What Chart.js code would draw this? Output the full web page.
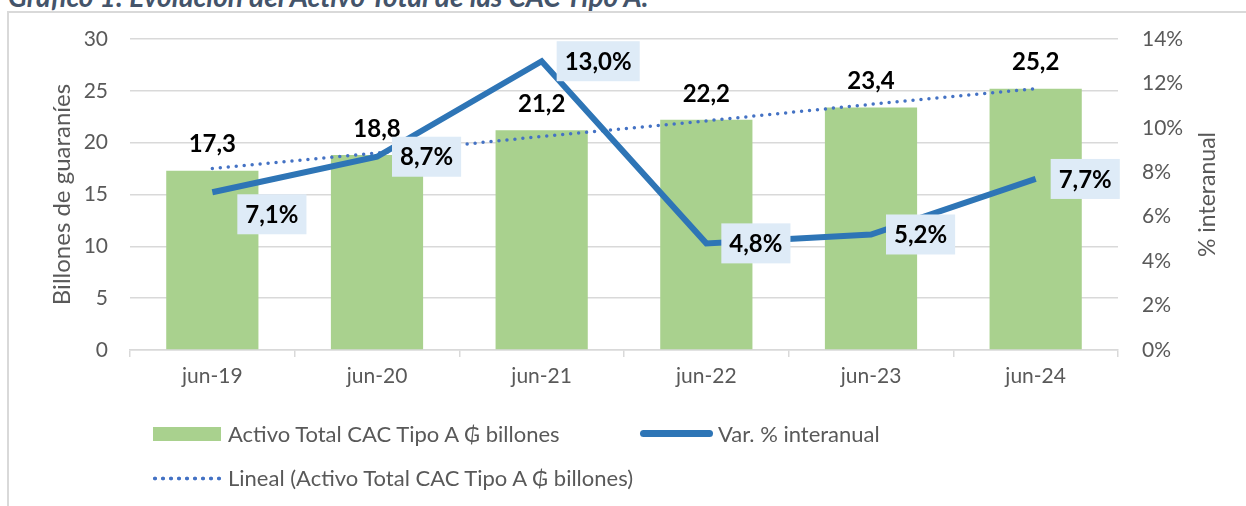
<!DOCTYPE html>
<html>
<head>
<meta charset="utf-8">
<script src="https://cdn.jsdelivr.net/npm/chart.js@4.4.1/dist/chart.umd.min.js"></script>
<style>
body{margin:0;background:#fff;overflow:hidden}
#wrap{position:relative;width:1246px;height:506px;overflow:hidden;background:#fff}
#titulo{position:absolute;left:8px;top:-18px;font:italic bold 28px Lato;line-height:28px;color:#44546A;white-space:nowrap}
#marco{position:absolute;left:7px;top:11px;width:1400px;height:700px;border:2px solid #D9D9D9}
canvas{position:absolute;left:0;top:0}
.ley{position:absolute;font:22px Lato;color:#595959;line-height:24px;white-space:nowrap}
.sim{position:absolute}
</style>
</head>
<body>
<div id="wrap">
<div id="titulo">Gráfico 1: Evolución del Activo Total de las CAC Tipo A.</div>
<div id="marco"></div>
<canvas id="grafico-activo" width="1246" height="506"></canvas>

<div class="sim" style="left:153px;top:427px;width:68px;height:14px;background:#A9D18E"></div>
<div class="ley" style="left:228px;top:422px">Activo Total CAC Tipo A ₲ billones</div>
<div class="sim" style="left:640px;top:430px;width:73px;height:7px;border-radius:4px;background:#2E75B6"></div>
<div class="ley" style="left:718px;top:422px">Var. % interanual</div>
<div class="sim" style="left:151px;top:476px;width:72px;height:5px;background:radial-gradient(circle,#4472C4 1.7px,transparent 2.2px) 0 0/8px 5px repeat-x"></div>
<div class="ley" style="left:228px;top:466px">Lineal (Activo Total CAC Tipo A ₲ billones)</div>
</div>

<script>
// datos
const categorias=["jun-19","jun-20","jun-21","jun-22","jun-23","jun-24"];
const activoTotal=[17.3,18.8,21.2,22.2,23.4,25.2];
const varInteranual=[7.1,8.7,13.0,4.8,5.2,7.7];
const tendenciaLineal=[17.5,19.0,20.6,22.1,23.7,25.2];

const gris="#595959";

function coma(v){
return v.toFixed(1).replace(".",",");
}

// etiquetas de datos y titulo del eje derecho
const etiquetas={
id:"etiquetas",
afterDatasetsDraw(chart){
let ctx=chart.ctx;
ctx.save();
ctx.font="bold 24px Lato";
ctx.textAlign="center";
ctx.textBaseline="middle";

chart.getDatasetMeta(0).data.forEach((b,i)=>{
ctx.fillStyle="#000";
ctx.fillText(coma(activoTotal[i]),b.x,b.y-26);
});

chart.getDatasetMeta(1).data.forEach((p,i)=>{
let txt=coma(varInteranual[i])+"%";
let w=ctx.measureText(txt).width+16;
let h=40;
let x=p.x+15;
let y=p.y-h/2;
if(i==0){x=p.x+25;y=p.y+2;}
ctx.fillStyle="#DEEBF7";
ctx.fillRect(x,y,w,h);
ctx.fillStyle="#000";
ctx.fillText(txt,x+w/2,y+h/2+1);
});

// eje derecho: se lee de abajo hacia arriba
let a=chart.chartArea;
ctx.translate(1208,(a.top+a.bottom)/2);
ctx.rotate(-Math.PI/2);
ctx.font="23px Lato";
ctx.fillStyle=gris;
ctx.fillText("% interanual",0,0);

ctx.restore();
}
};

new Chart(
document.getElementById("grafico-activo"),
{
data:{
labels:categorias,
datasets:[
{
type:"bar",
label:"Activo Total CAC Tipo A ₲ billones",
data:activoTotal,
backgroundColor:"#A9D18E",
categoryPercentage:1,
barPercentage:0.56,
yAxisID:"y",
order:3
},
{
type:"line",
label:"Var. % interanual",
data:varInteranual,
borderColor:"#2E75B6",
backgroundColor:"#2E75B6",
borderWidth:6,
pointRadius:0,
tension:0,
yAxisID:"y1",
order:1
},
{
type:"line",
label:"Lineal (Activo Total CAC Tipo A ₲ billones)",
data:tendenciaLineal,
borderColor:"#4472C4",
borderWidth:3.5,
borderDash:[0,8],
borderCapStyle:"round",
pointRadius:0,
yAxisID:"y",
order:2
}
]
},
options:{
responsive:false,
animation:false,
devicePixelRatio:1,
layout:{autoPadding:false,padding:{left:0,right:0,top:39,bottom:116}},
plugins:{legend:{display:false},tooltip:{enabled:false}},
scales:{
x:{
grid:{drawOnChartArea:false,color:"#D9D9D9",lineWidth:1.5,tickLength:7},
border:{color:"#D9D9D9",width:1.5},
ticks:{font:{family:"Lato",size:21},color:gris,padding:7},
afterFit(s){s.height=40;}
},
y:{
position:"left",
min:0,max:30,
ticks:{stepSize:5,font:{family:"Lato",size:21},color:gris,padding:22},
grid:{color:"#D9D9D9",lineWidth:1.5,drawTicks:false},
border:{display:false},
title:{display:true,text:"Billones de guaraníes",font:{family:"Lato",size:24},color:gris,padding:{top:48}},
afterFit(s){s.width=130;}
},
y1:{
position:"right",
min:0,max:14,
ticks:{stepSize:2,font:{family:"Lato",size:21},color:gris,padding:24,callback:v=>v+"%"},
grid:{drawOnChartArea:false,drawTicks:false},
border:{display:false},
afterFit(s){s.width=128;}
}
}
},
plugins:[etiquetas]
}
);
</script>
</body>
</html>
